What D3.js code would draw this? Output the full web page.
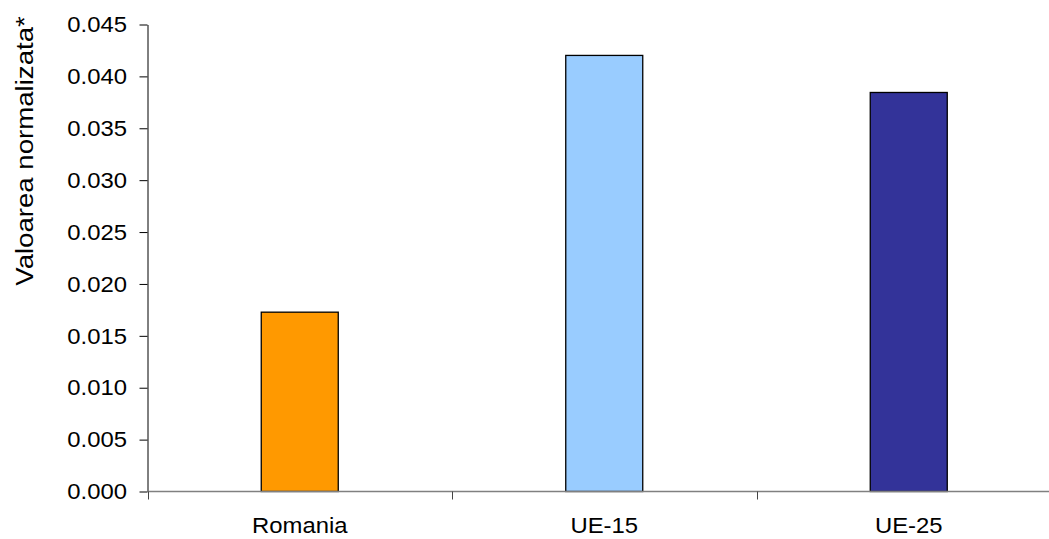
<!DOCTYPE html>
<html>
<head>
<meta charset="utf-8">
<script src="https://cdn.jsdelivr.net/npm/d3@7"></script>
<style>
  html, body { margin: 0; padding: 0; background: #fff; }
  svg { display: block; }
  text { font-family: "Liberation Sans", Arial, sans-serif; fill: #000; }
</style>
</head>
<body>
<svg id="chart" width="1049" height="539"></svg>
<script>
// Normalized values per region
const categories = ["Romania", "UE-15", "UE-25"];
const values = [0.01728, 0.04202, 0.03845];
const colors = ["#FF9900", "#99CCFF", "#333399"];
const yTicks = [0, 0.005, 0.010, 0.015, 0.020, 0.025, 0.030, 0.035, 0.040, 0.045];
const yTitle = "Valoarea normalizata*";

const svg = d3.select("#chart");
const plot = { left: 147.5, top: 24.5, bottom: 491.5, right: 1061 };
const fontSize = 21.5, stretch = 1.11;

const x = d3.scaleBand().domain(categories).range([plot.left, plot.right]).paddingInner(0).paddingOuter(0);
const y = d3.scaleLinear().domain([0, 0.045]).range([plot.bottom, plot.top]);
const barW = 77;
const fmt = d3.format(".3f");

// Bars
svg.append("g").selectAll("rect")
  .data(categories)
  .join("rect")
  .attr("x", (d) => x(d) + x.bandwidth() / 2 - barW / 2)
  .attr("y", (d, i) => y(values[i]))
  .attr("width", barW)
  .attr("height", (d, i) => plot.bottom - y(values[i]))
  .attr("fill", (d, i) => colors[i])
  .attr("stroke", "#000")
  .attr("stroke-width", 1.3);

// Y axis: line + ticks from d3, labels drawn with a slight horizontal stretch
const yAxis = svg.append("g")
  .attr("transform", `translate(${plot.left},0)`)
  .call(d3.axisLeft(y).tickValues(yTicks).tickFormat("").tickSize(8).tickSizeOuter(0));
yAxis.select(".domain").attr("stroke", "#000").attr("stroke-width", 1);
yAxis.selectAll(".tick line").attr("stroke", "#000");
svg.append("g").selectAll("text")
  .data(yTicks)
  .join("text")
  .attr("transform", (d) => `translate(127,${y(d)}) scale(${stretch},1)`)
  .attr("text-anchor", "end")
  .attr("dy", "0.36em")
  .style("font-size", fontSize + "px")
  .text((d) => fmt(d));

// X axis with ticks at category boundaries
const boundaries = d3.range(categories.length + 1).map((i) => plot.left + i * x.bandwidth());
const xg = svg.append("g");
xg.append("line")
  .attr("x1", plot.left).attr("x2", plot.right)
  .attr("y1", plot.bottom).attr("y2", plot.bottom)
  .attr("stroke", "#808080").attr("stroke-width", 1.3);
xg.selectAll("line.tk")
  .data(boundaries)
  .join("line")
  .attr("class", "tk")
  .attr("x1", (d) => Math.round(d) + 0.5).attr("x2", (d) => Math.round(d) + 0.5)
  .attr("y1", plot.bottom).attr("y2", plot.bottom + 8)
  .attr("stroke", "#444");
xg.selectAll("text")
  .data(categories)
  .join("text")
  .attr("transform", (d) => `translate(${x(d) + x.bandwidth() / 2},533) scale(${stretch},1)`)
  .attr("text-anchor", "middle")
  .style("font-size", fontSize + "px")
  .text((d) => d);

// Y title
svg.append("text")
  .attr("transform", `translate(33,151) rotate(-90) scale(1.15,1)`)
  .attr("text-anchor", "middle")
  .style("font-size", "24px")
  .text(yTitle);
</script>
</body>
</html>
